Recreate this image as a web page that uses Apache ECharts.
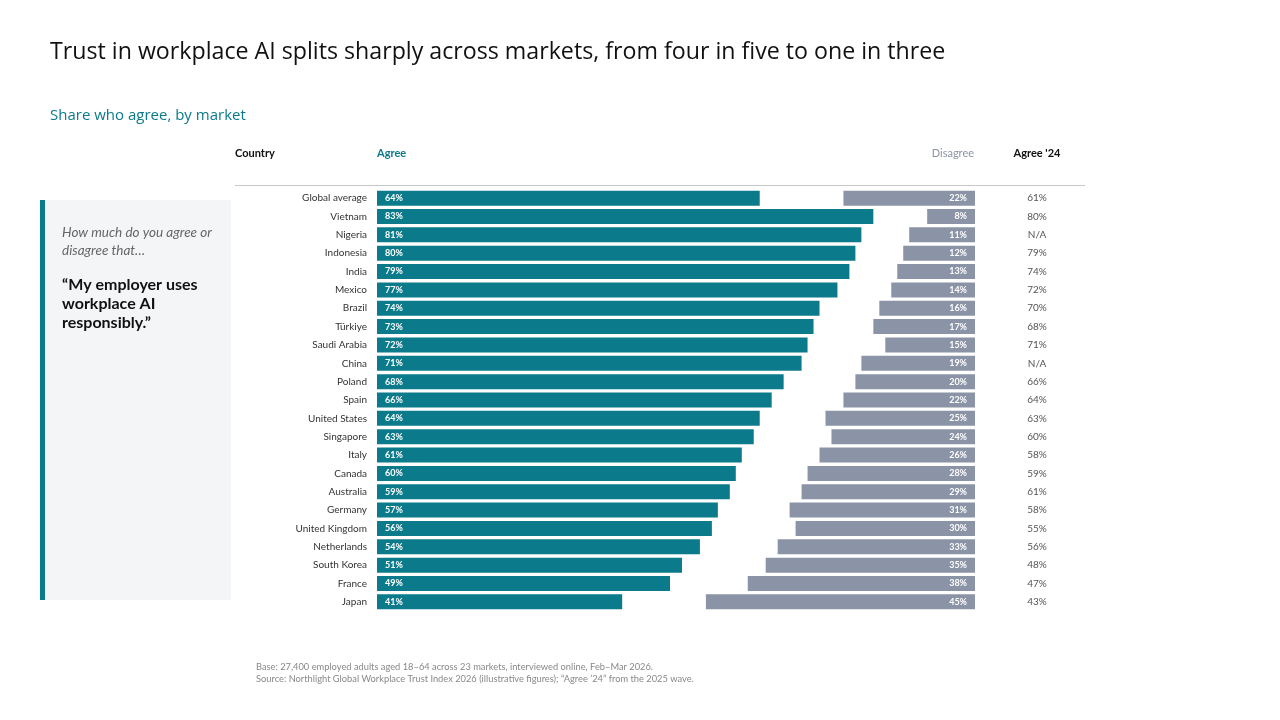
<!DOCTYPE html>
<html>
<head>
<meta charset="utf-8">
<script src="https://cdn.jsdelivr.net/npm/echarts@6/dist/echarts.min.js"></script>
<style>
  html, body { margin: 0; padding: 0; background: #fff; }
  #chart { width: 1280px; height: 720px; }
</style>
</head>
<body>
<div id="chart"></div>
<script>
// data
const countries = ['Global average', 'Vietnam', 'Nigeria', 'Indonesia', 'India', 'Mexico', 'Brazil', 'Türkiye',
  'Saudi Arabia', 'China', 'Poland', 'Spain', 'United States', 'Singapore', 'Italy', 'Canada', 'Australia',
  'Germany', 'United Kingdom', 'Netherlands', 'South Korea', 'France', 'Japan']
const agree = [64, 83, 81, 80, 79, 77, 74, 73, 72, 71, 68, 66, 64, 63, 61, 60, 59, 57, 56, 54, 51, 49, 41]
const disagree = [22, 8, 11, 12, 13, 14, 16, 17, 15, 19, 20, 22, 25, 24, 26, 28, 29, 31, 30, 33, 35, 38, 45]
const agree24 = ['61%', '80%', 'N/A', '79%', '74%', '72%', '70%', '68%', '71%', 'N/A', '66%', '64%', '63%',
  '60%', '58%', '59%', '61%', '58%', '55%', '56%', '48%', '47%', '43%']

const TEAL = '#0b7a8b'
const SLATE = '#8b93a6'
const FONT = 'Lato, "Open Sans", sans-serif'

const chart = echarts.init(document.getElementById('chart'))

// spacer so disagree bars end at 100
const spacer = disagree.map(d => 100 - d)

chart.setOption({
  animation: false,
  textStyle: { fontFamily: FONT },
  grid: { left: 377, right: 305, top: 189, height: 422 },
  xAxis: { type: 'value', min: 0, max: 100, show: false },
  yAxis: [
    {
      type: 'category',
      data: countries,
      inverse: true,
      axisLine: { show: false },
      axisTick: { show: false },
      axisLabel: { color: '#333', fontSize: 10, margin: 10 }
    },
    {
      type: 'category',
      data: agree24,
      inverse: true,
      position: 'right',
      axisLine: { show: false },
      axisTick: { show: false },
      axisLabel: { color: '#555', fontSize: 10, margin: 62, align: 'center' }
    }
  ],
  series: [
    {
      name: 'Agree',
      type: 'bar',
      stack: 'a',
      barWidth: 15,
      barGap: '-100%',
      data: agree,
      itemStyle: { color: TEAL },
      label: {
        show: true, position: 'insideLeft', offset: [3, 0],
        formatter: '{c}%', color: '#fff', fontSize: 9, fontWeight: 'bold'
      }
    },
    {
      name: 'spacer',
      type: 'bar',
      stack: 'd',
      barWidth: 15,
      data: spacer,
      itemStyle: { color: 'transparent' },
      silent: true
    },
    {
      name: 'Disagree',
      type: 'bar',
      stack: 'd',
      barWidth: 15,
      data: disagree,
      itemStyle: { color: SLATE },
      label: {
        show: true, position: 'insideRight', offset: [-3, 0],
        formatter: '{c}%', color: '#fff', fontSize: 9, fontWeight: 'bold'
      }
    }
  ],
  graphic: [
    // title + subtitle
    { type: 'text', left: 50, top: 41, style: { text: 'Trust in workplace AI splits sharply across markets, from four in five to one in three', fontSize: 23.2, fill: '#111', fontFamily: '"Open Sans", sans-serif' } },
    { type: 'text', left: 50, top: 108, style: { text: 'Share who agree, by market', fontSize: 15, fill: TEAL, fontFamily: '"Open Sans", sans-serif' } },
    // column headers
    { type: 'text', left: 235, top: 148, style: { text: 'Country', fontSize: 11, fontWeight: 'bold', fill: '#111', fontFamily: FONT } },
    { type: 'text', left: 377, top: 148, style: { text: 'Agree', fontSize: 11, fontWeight: 'bold', fill: TEAL, fontFamily: FONT } },
    { type: 'text', x: 974, y: 148, style: { text: 'Disagree', fontSize: 11, fill: SLATE, align: 'right', fontFamily: FONT } },
    { type: 'text', x: 1037, y: 148, style: { text: "Agree '24", fontSize: 11, fontWeight: 'bold', fill: '#111', align: 'center', fontFamily: FONT } },
    { type: 'line', shape: { x1: 235, y1: 185.5, x2: 1085, y2: 185.5 }, style: { stroke: '#c8c8c8', lineWidth: 1 } },
    // question panel
    { type: 'rect', shape: { x: 40, y: 200, width: 191, height: 400 }, style: { fill: '#f4f5f7' } },
    { type: 'rect', shape: { x: 40, y: 200, width: 5, height: 400 }, style: { fill: TEAL } },
    { type: 'text', left: 62, top: 224, style: { text: 'How much do you agree or\ndisagree that…', fontSize: 13.5, lineHeight: 18, fontStyle: 'italic', fill: '#666', fontFamily: FONT } },
    { type: 'text', left: 62, top: 275, style: { text: '“My employer uses\nworkplace AI\nresponsibly.”', fontSize: 16, lineHeight: 19, fontWeight: 'bold', fill: '#111', fontFamily: FONT } },
    // footnote
    { type: 'text', left: 256, top: 661, style: { text: 'Base: 27,400 employed adults aged 18–64 across 23 markets, interviewed online, Feb–Mar 2026.\nSource: Northlight Global Workplace Trust Index 2026 (illustrative figures); “Agree ’24” from the 2025 wave.', fontSize: 9.3, lineHeight: 12, fill: '#888', fontFamily: FONT } }
  ]
})
</script>
</body>
</html>
